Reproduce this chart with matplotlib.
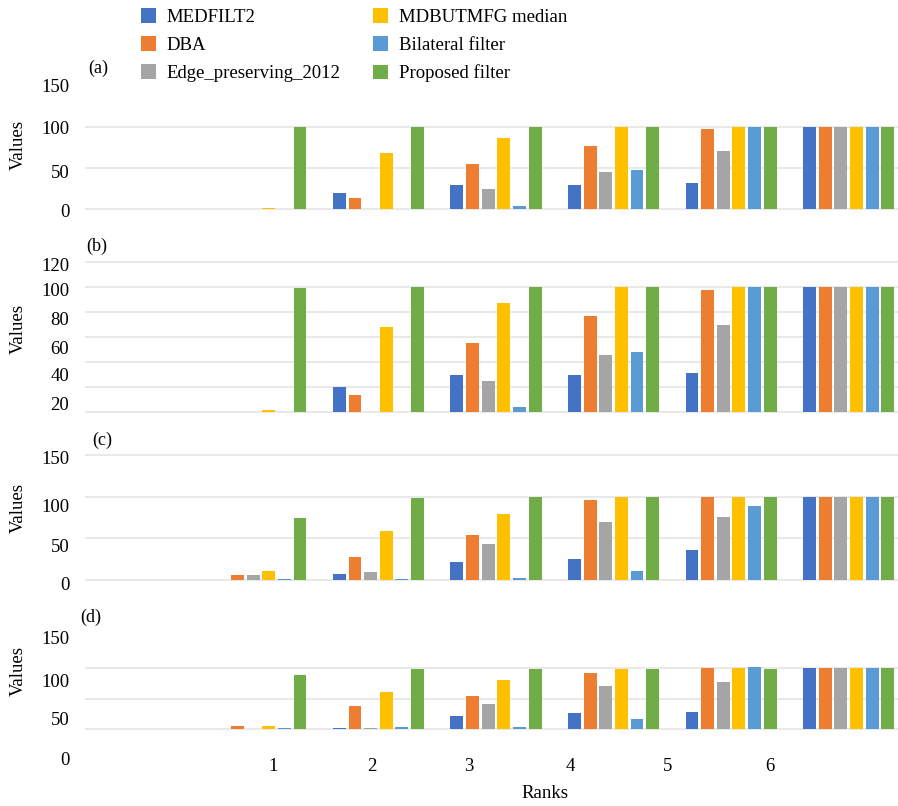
import matplotlib
import matplotlib.pyplot as plt
import numpy as np

matplotlib.use('Agg')

plt.rcParams['font.family'] = ['Liberation Serif', 'DejaVu Serif']

series = ["MEDFILT2", "DBA", "Edge_preserving_2012",
          "MDBUTMFG median", "Bilateral filter", "Proposed filter"]
colors = ["#4472C4", "#ED7D31", "#A5A5A5", "#FFC000", "#5B9BD5", "#70AD47"]
ranks = [1, 2, 3, 4, 5, 6]

# values per panel: rows = series, columns = ranks 1..6
vals_a = [
    [0, 20, 29, 29, 32, 100],
    [0, 13, 55, 77, 98, 100],
    [0, 0, 24, 45, 71, 100],
    [1.5, 68, 87, 100, 100, 100],
    [0, 0, 4, 48, 100, 100],
    [100, 100, 100, 100, 100, 100],
]
vals_b = [
    [0, 20, 30, 30, 31, 100],
    [0, 14, 55, 77, 98, 100],
    [0, 0, 25, 46, 70, 100],
    [1.5, 68, 87, 100, 100, 100],
    [0, 0, 4, 48, 100, 100],
    [99, 100, 100, 100, 100, 100],
]
vals_c = [
    [0, 7, 22, 25, 36, 100],
    [6, 28, 54, 96, 100, 100],
    [6, 10, 43, 70, 76, 100],
    [11, 59, 79, 100, 100, 100],
    [1, 1, 2, 11, 89, 100],
    [75, 99, 100, 100, 100, 100],
]
vals_d = [
    [0, 2, 21, 26, 28, 100],
    [5, 38, 54, 92, 100, 100],
    [0, 1, 41, 70, 77, 100],
    [5, 60, 80, 98, 100, 100],
    [2, 3, 3, 16, 101, 100],
    [88, 98, 98, 98, 98, 100],
]

# y tick labels as printed, and where they sit on each panel's scale
ylab_a = ["0", "50", "100", "150"]
ypos_a = [-2, 46, 99, 150]
ylab_b = ["20", "40", "60", "80", "100", "120"]
ypos_b = [7, 30, 52, 75, 98, 118]
ylab_c = ["0", "50", "100", "150"]
ypos_c = [-4, 41, 90, 147]
ylab_d = ["0", "50", "100", "150"]
ypos_d = [-48, 18, 80, 150]

grid_a = [0, 50, 100, 150]
grid_b = [0, 20, 40, 60, 80, 100, 120]
grid_c = [0, 50, 100, 150]
grid_d = [0, 50, 100, 150]

# rank tick labels sit off the group centres in the original
xtick_pos = [1.10, 1.94, 2.77, 3.63, 4.46, 5.33]

W, H = 898, 806
fig = plt.figure(figsize=(W / 100, H / 100), dpi=100)

x_left, x_right = 84.6, 898
xlim = (-0.5, 6.42)

panels = [
    ("(a)", vals_a, ylab_a, ypos_a, grid_a, (-3, 153), 211.5, 83.5, (88, 68)),
    ("(b)", vals_b, ylab_b, ypos_b, grid_b, (-2, 122), 414.5, 259.5, (86, 246)),
    ("(c)", vals_c, ylab_c, ypos_c, grid_c, (-8, 153), 586.6, 453.0, (92, 440)),
    ("(d)", vals_d, ylab_d, ypos_d, grid_d, (-50, 153), 759.5, 635.7, (80, 617)),
]
ylabel_y = [145, 329, 508, 671]

x = np.array(ranks)
bw = 0.11
step = 0.133

axes = []
for k, (tag, vals, ylab, ypos, grid, ylim, ybot, ytop, tagpos) in enumerate(panels):
    ax = fig.add_axes([x_left / W, 1 - ybot / H, (x_right - x_left) / W, (ybot - ytop) / H])
    for i, name in enumerate(series):
        ax.bar(x + (i - 2.5) * step, vals[i], width=bw, color=colors[i], label=name, zorder=3)
    ax.set_xlim(*xlim)
    ax.set_ylim(*ylim)
    ax.set_yticks(grid, minor=True)
    ax.set_yticks(ypos, ylab)
    ax.grid(False)
    ax.grid(which='minor', axis='y', color='#e9e9e9', linewidth=1.5, zorder=0)
    ax.tick_params(axis='y', which='both', length=0, pad=11, labelsize=13.5)
    ax.tick_params(axis='x', length=0)
    for s in ax.spines.values():
        s.set_visible(False)
    if k < 3:
        ax.set_xticks([])
    else:
        ax.set_xticks(xtick_pos, [str(r) for r in ranks])
        ax.tick_params(axis='x', labelsize=13.5, pad=-1)
    fig.text(tagpos[0] / W, 1 - tagpos[1] / H, tag, fontsize=13, ha='left', va='center')
    fig.text(18 / W, 1 - ylabel_y[k] / H, "Values", fontsize=13.5, rotation=90,
             ha='center', va='center')
    axes.append(ax)

fig.text(545 / W, 1 - 793 / H, "Ranks", fontsize=13.5, ha='center', va='center')

handles, labels = axes[0].get_legend_handles_labels()
fig.legend(handles, labels, ncol=2, frameon=False, loc='upper left',
           bbox_to_anchor=(132 / W, 1 + 1 / H), fontsize=13.5,
           handlelength=0.8, handleheight=0.8, handletextpad=0.55,
           labelspacing=0.55, columnspacing=1.75, borderpad=0)

fig.savefig("out.png", dpi=100)
